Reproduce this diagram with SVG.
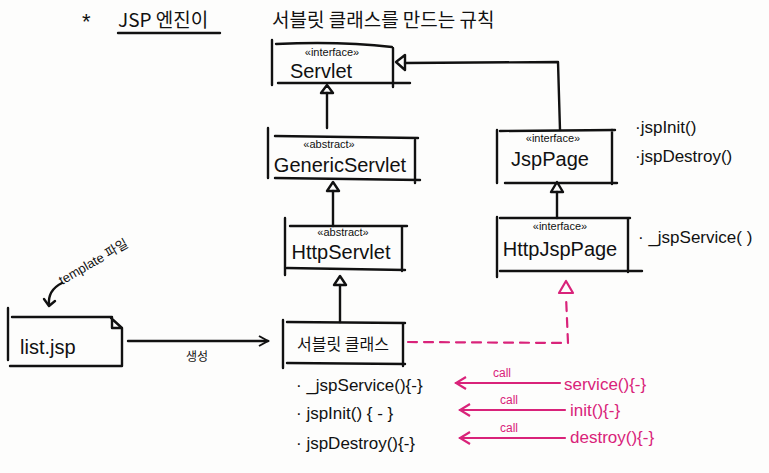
<svg xmlns="http://www.w3.org/2000/svg" width="769" height="473" viewBox="0 0 769 473">
<defs>
<style>
.ln{fill:none;stroke:#111;stroke-width:2.4;stroke-linecap:round;stroke-linejoin:round}
.pk{fill:none;stroke:#d9237a;stroke-width:2.2;stroke-linecap:round;stroke-linejoin:round}
.dash{stroke-dasharray:9 7}
.t{font-family:"Liberation Sans","Noto Sans CJK KR",sans-serif;fill:#111}
.k{font-family:"Noto Sans CJK KR","Liberation Sans",sans-serif;fill:#111}
.st{font-size:11px}
.nm{font-size:20px}
.m{font-size:17px}
.p{font-family:"Liberation Sans",sans-serif;fill:#d9237a}
</style>
<marker id="open" markerWidth="12" markerHeight="12" refX="10" refY="6" orient="auto" markerUnits="userSpaceOnUse">
<path d="M1,1 L10,6 L1,11" fill="none" stroke="#111" stroke-width="2"/>
</marker>
<marker id="openp" markerWidth="14" markerHeight="14" refX="12" refY="7" orient="auto" markerUnits="userSpaceOnUse">
<path d="M2,1 L12,7 L2,13" fill="none" stroke="#d9237a" stroke-width="2.2"/>
</marker>
</defs>
<rect width="769" height="473" fill="#fdfdfc"/>

<g id="title">
<text class="t" x="82" y="29" font-size="22">*</text>
<text class="k" x="118" y="27" font-size="19">JSP 엔진이</text>
<line class="ln" x1="118" y1="33" x2="220" y2="33"/>
<text class="k" x="272" y="27" font-size="19">서블릿 클래스를 만드는 규칙</text>
</g>

<g id="connectors">
<!-- GenericServlet -> Servlet -->
<line class="ln" x1="327" y1="93" x2="327" y2="128"/>
<path class="ln" d="M327,85 L321,93 L333,93 Z"/>
<!-- HttpServlet -> GenericServlet -->
<line class="ln" x1="333" y1="191" x2="333" y2="226"/>
<path class="ln" d="M333,182 L327,191 L339,191 Z"/>
<!-- servlet class -> HttpServlet -->
<line class="ln" x1="340" y1="285" x2="340" y2="322"/>
<path class="ln" d="M340,276 L334,285 L346,285 Z"/>
<!-- JspPage -> Servlet -->
<path class="ln" d="M405,63 L558,62 L560,130"/>
<path class="ln" d="M396,62 L405,55 L405,70 Z"/>
<!-- HttpJspPage -> JspPage -->
<line class="ln" x1="557" y1="192" x2="557" y2="218"/>
<path class="ln" d="M557,182 L551,192 L563,192 Z"/>
<!-- servlet class ..> HttpJspPage -->
<path class="pk dash" d="M408,342 L568,343 L566,296"/>
<path class="pk" d="M566,281 L559,293 L573,293 Z"/>
<!-- list.jsp -> servlet class -->
<line class="ln" x1="128" y1="341" x2="268" y2="341" marker-end="url(#open)"/>
<text class="k" x="186" y="361" font-size="12">생성</text>
<!-- template label arrow -->
<path class="ln" d="M62,283 C52,288 48,295 49,305" stroke-width="1.8"/>
<path class="ln" d="M44,299 L49,306 L55,301" stroke-width="1.8"/>
<text class="t" x="62" y="285" font-size="13" transform="rotate(-30 62 285)">template 파일</text>
<!-- call arrows -->
<line class="pk" x1="560" y1="383" x2="456" y2="383" marker-end="url(#openp)"/>
<text class="p" x="493" y="377" font-size="12">call</text>
<line class="pk" x1="565" y1="410" x2="460" y2="410" marker-end="url(#openp)"/>
<text class="p" x="500" y="404" font-size="12">call</text>
<line class="pk" x1="565" y1="438" x2="460" y2="438" marker-end="url(#openp)"/>
<text class="p" x="500" y="432" font-size="12">call</text>
</g>

<g id="servlet">
<path class="ln" d="M272,40 L272,85 M276,44 Q340,41 392,47 M393,48 L393,87 M278,83 L410,83"/>
<text class="t st" x="332" y="56" text-anchor="middle">«interface»</text>
<text class="t nm" x="321" y="78" text-anchor="middle">Servlet</text>
</g>

<g id="genericservlet">
<path class="ln" d="M268,128 L268,178 M275,136 L418,138 M415,140 L415,183 M275,178 L420,180"/>
<text class="t st" x="329" y="148" text-anchor="middle">«abstract»</text>
<text class="t nm" x="340" y="172" text-anchor="middle">GenericServlet</text>
</g>

<g id="httpservlet">
<path class="ln" d="M285,218 L285,275 M290,226 L407,226 M402,226 L402,271 M287,268 L405,270"/>
<text class="t st" x="343" y="236" text-anchor="middle">«abstract»</text>
<text class="t nm" x="341" y="259" text-anchor="middle">HttpServlet</text>
</g>

<g id="servletclass">
<path class="ln" d="M283,320 L283,368 M287,322 L405,323 M403,323 L403,366 M287,363 L405,364"/>
<text class="k" x="343" y="350" font-size="16" text-anchor="middle">서블릿 클래스</text>
</g>

<g id="listjsp">
<path class="ln" d="M8,308 L8,360 M12,317 L112,317 M112,317 L112,328 L122,328 M111,318 L122,328 L122,366 M10,366 L122,366"/>
<text class="t" x="20" y="354" font-size="20">list.jsp</text>
</g>

<g id="jsppage">
<path class="ln" d="M497,130 L497,183 M500,131 L615,130 M612,130 L612,184 M505,183 L617,183"/>
<text class="t st" x="553" y="142" text-anchor="middle">«interface»</text>
<text class="t nm" x="550" y="166" text-anchor="middle">JspPage</text>
<text class="t m" x="635" y="133">·jspInit()</text>
<text class="t m" x="635" y="162">·jspDestroy()</text>
</g>

<g id="httpjsppage">
<path class="ln" d="M497,217 L497,277 M500,218 L630,218 M628,218 L628,272 M500,271 L642,271"/>
<text class="t st" x="560" y="230" text-anchor="middle">«interface»</text>
<text class="t nm" x="560" y="256" text-anchor="middle">HttpJspPage</text>
<text class="t m" x="638" y="243">·  _jspService( )</text>
</g>

<g id="methods">
<text class="t m" x="296" y="391">·  _jspService(){-}</text>
<text class="t m" x="296" y="419">· jspInit() { - }</text>
<text class="t m" x="296" y="449">· jspDestroy(){-}</text>
<text class="p m" x="564" y="390">service(){-}</text>
<text class="p m" x="570" y="416">init(){-}</text>
<text class="p m" x="570" y="443">destroy(){-}</text>
</g>
</svg>
